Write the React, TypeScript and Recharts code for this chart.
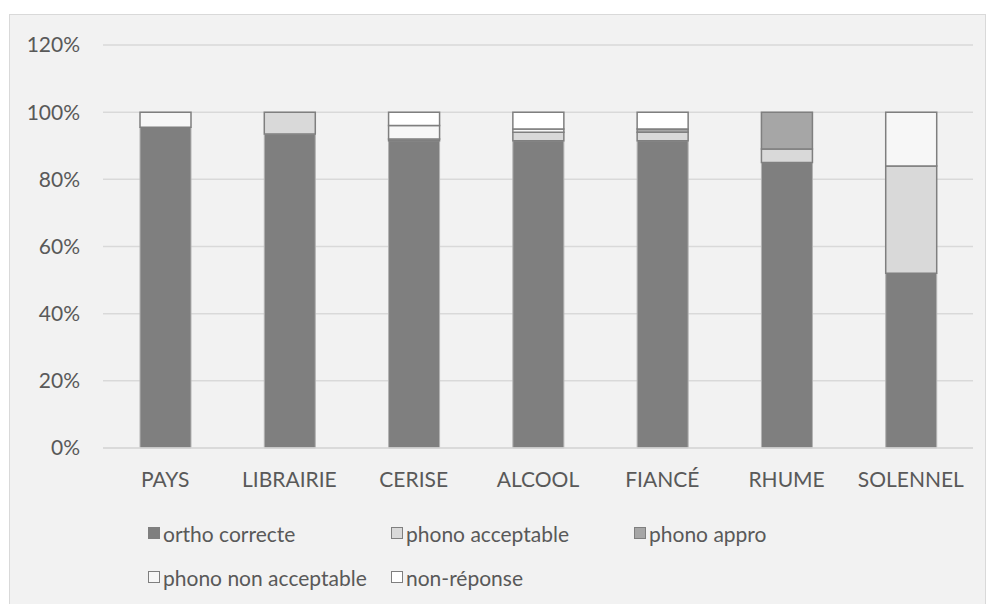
import { Bar, BarChart, CartesianGrid, XAxis, YAxis } from 'recharts'

const CATEGORIES = ['PAYS', 'LIBRAIRIE', 'CERISE', 'ALCOOL', 'FIANCÉ', 'RHUME', 'SOLENNEL']

const ORTHO_CORRECTE = [95.5, 93.5, 91.5, 91.5, 91.5, 85, 52]
const PHONO_ACCEPTABLE = [0, 6.5, 0.5, 2.5, 2.5, 4, 32]
const PHONO_APPRO = [0, 0, 0, 0, 1, 11, 0]
const PHONO_NON_ACCEPTABLE = [4.5, 0, 4, 1, 0, 0, 16]
const NON_REPONSE = [0, 0, 4, 5, 5, 0, 0]

const Y_TICKS = [0, 20, 40, 60, 80, 100, 120]

const SERIES = [
  { key: 'ortho', name: 'ortho correcte', values: ORTHO_CORRECTE, fill: '#7f7f7f', stroke: '#b3b3b3', width: 1 },
  { key: 'acceptable', name: 'phono acceptable', values: PHONO_ACCEPTABLE, fill: '#d9d9d9', stroke: '#7f7f7f', width: 1.5 },
  { key: 'appro', name: 'phono appro', values: PHONO_APPRO, fill: '#a6a6a6', stroke: '#7f7f7f', width: 1.5 },
  { key: 'nonAcceptable', name: 'phono non acceptable', values: PHONO_NON_ACCEPTABLE, fill: '#f7f7f7', stroke: '#7f7f7f', width: 1.5 },
  { key: 'nonReponse', name: 'non-réponse', values: NON_REPONSE, fill: '#ffffff', stroke: '#7f7f7f', width: 1.5 },
]

const FONT = 'Lato, "Open Sans", sans-serif'
const TEXT_COLOR = '#595959'

const chartData = CATEGORIES.map((name, i) => {
  const row: Record<string, string | number> = { name }
  SERIES.forEach((s) => {
    row[s.key] = s.values[i]
  })
  return row
})

function ChartLegend() {
  return (
    <div
      style={{
        position: 'absolute',
        left: 138,
        top: 506,
        display: 'grid',
        gridTemplateColumns: '243px 243px 243px',
        rowGap: 20,
        fontFamily: FONT,
        fontSize: 21,
        color: TEXT_COLOR,
      }}
    >
      {SERIES.map((s) => (
        <div key={s.key} style={{ display: 'flex', alignItems: 'center', height: 24, whiteSpace: 'nowrap' }}>
          <span
            style={{
              display: 'inline-block',
              width: 12,
              height: 12,
              boxSizing: 'border-box',
              background: s.fill,
              border: '1px solid #7f7f7f',
              marginRight: 3,
            }}
          />
          <span>{s.name}</span>
        </div>
      ))}
    </div>
  )
}

export default function App() {
  return (
    <div
      style={{
        position: 'absolute',
        left: 0,
        top: 0,
        width: 989,
        height: 604,
        overflow: 'hidden',
        background: '#ffffff',
      }}
    >
      <div
        style={{
          position: 'absolute',
          left: 9,
          top: 14,
          width: 977,
          height: 600,
          boxSizing: 'border-box',
          background: '#f2f2f2',
          border: '1px solid #d9d9d9',
        }}
      >
        <BarChart
          width={975}
          height={585}
          data={chartData}
          barSize={51}
          margin={{ top: 30, right: 12, left: 0, bottom: 92 }}
          style={{ fontFamily: FONT }}
        >
          <CartesianGrid vertical={false} stroke="#d9d9d9" strokeWidth={1.5} />
          <XAxis
            dataKey="name"
            height={60}
            axisLine={{ stroke: '#d9d9d9', strokeWidth: 1.5 }}
            tickLine={false}
            tickSize={0}
            tickMargin={24}
            tick={{ fill: TEXT_COLOR, fontSize: 21 }}
            interval={0}
          />
          <YAxis
            width={93}
            domain={[0, 120]}
            ticks={Y_TICKS}
            tickFormatter={(v: number) => `${v}%`}
            axisLine={false}
            tickLine={false}
            tickSize={0}
            tickMargin={23}
            tick={{ fill: TEXT_COLOR, fontSize: 21 }}
          />
          {SERIES.map((s) => (
            <Bar
              key={s.key}
              dataKey={s.key}
              name={s.name}
              stackId="a"
              fill={s.fill}
              stroke={s.stroke}
              strokeWidth={s.width}
              isAnimationActive={false}
            />
          ))}
        </BarChart>
        <ChartLegend />
      </div>
    </div>
  )
}
